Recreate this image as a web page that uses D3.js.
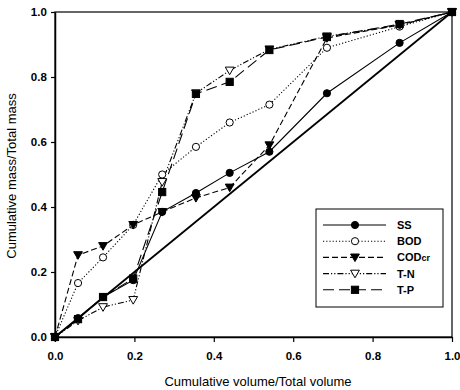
<!DOCTYPE html>
<html><head><meta charset="utf-8">
<script src="https://cdn.jsdelivr.net/npm/d3@7/dist/d3.min.js"></script>
<style>body{margin:0;background:#fff}</style></head>
<body><svg id="c" width="460" height="390"></svg>
<script>
const xVals = [0, 0.058, 0.121, 0.197, 0.27, 0.355, 0.44, 0.54, 0.685, 0.868, 1.0];
const ss    = [0, 0.058, 0.123, 0.175, 0.385, 0.443, 0.505, 0.57, 0.75, 0.905, 1.0];
const bod   = [0, 0.166, 0.245, 0.345, 0.50, 0.585, 0.66, 0.715, 0.89, 0.955, 1.0];
const codcr = [0, 0.252, 0.28, 0.345, 0.385, 0.428, 0.46, 0.59, 0.92, 0.96, 1.0];
const tn    = [0, 0.05, 0.092, 0.114, 0.477, 0.75, 0.82, 0.885, 0.925, 0.96, 1.0];
const tp    = [0, 0.055, 0.123, 0.18, 0.446, 0.748, 0.785, 0.883, 0.923, 0.963, 1.0];
const seriesNames = ["SS", "BOD", "CODcr", "T-N", "T-P"];
const tickVals = [0, 0.2, 0.4, 0.6, 0.8, 1.0];

const svg = d3.select("#c");
const x = d3.scaleLinear().domain([0,1]).range([55,452]);
const y = d3.scaleLinear().domain([0,1]).range([337,12]);

const styles = {
  "SS":   {dash:null, marker:"circle", fill:"#000"},
  "BOD":  {dash:"1.2,2", marker:"circle", fill:"#fff"},
  "CODcr":{dash:"6,3", marker:"tridown", fill:"#000"},
  "T-N":  {dash:"6,2,1.2,2,1.2,2", marker:"tridown", fill:"#fff"},
  "T-P":  {dash:"11,5", marker:"square", fill:"#000"}
};
const data = {"SS":ss,"BOD":bod,"CODcr":codcr,"T-N":tn,"T-P":tp};

svg.append("rect").attr("x",x(0)).attr("y",y(1)).attr("width",x(1)-x(0)).attr("height",y(0)-y(1))
  .attr("fill","none").attr("stroke","#000").attr("stroke-width",1.2);

const fmt = d3.format(".1f");
const xa = svg.append("g").attr("transform",`translate(0,${y(0)})`)
  .call(d3.axisBottom(x).tickValues(tickVals).tickFormat(fmt).tickSize(5).tickSizeOuter(0));
const ya = svg.append("g").attr("transform",`translate(${x(0)},0)`)
  .call(d3.axisLeft(y).tickValues(tickVals).tickFormat(fmt).tickSize(4).tickSizeOuter(0));
[xa,ya].forEach(a=>{
  a.select(".domain").attr("stroke-width",1.5);
  a.selectAll("line").attr("stroke-width",1.2);
  a.selectAll("text").attr("font-family","Liberation Sans, Arial, sans-serif")
    .attr("font-size",11.5).attr("font-weight","bold").attr("fill","#000");
});
xa.selectAll("text").attr("dy","1.3em");
ya.selectAll("text").attr("dx","-0.1em");

svg.append("line").attr("x1",x(0)).attr("y1",y(0)).attr("x2",x(1)).attr("y2",y(1))
  .attr("stroke","#000").attr("stroke-width",1.8);

function marker(g, m, fill, cx, cy, sc){
  sc = sc || 1;
  if(m==="circle") g.append("circle").attr("cx",cx).attr("cy",cy).attr("r",3.6)
    .attr("fill",fill).attr("stroke","#000").attr("stroke-width",1);
  else if(m==="square") g.append("rect").attr("x",cx-3.6).attr("y",cy-3.6).attr("width",7.2).attr("height",7.2)
    .attr("fill",fill).attr("stroke","#000").attr("stroke-width",1);
  else g.append("path").attr("d",`M${cx-4.4*sc},${cy-3.4*sc}L${cx+4.4*sc},${cy-3.4*sc}L${cx},${cy+4.2*sc}Z`)
    .attr("fill",fill).attr("stroke","#000").attr("stroke-width",1);
}

const line = d3.line().x(d=>x(d[0])).y(d=>y(d[1]));
seriesNames.forEach(n=>{
  const s = styles[n];
  const pts = xVals.map((v,i)=>[v,data[n][i]]);
  svg.append("path").attr("d",line(pts)).attr("fill","none").attr("stroke","#000")
    .attr("stroke-width",1.1).attr("stroke-dasharray",s.dash);
});
seriesNames.forEach(n=>{
  const s = styles[n]; const g = svg.append("g");
  xVals.forEach((v,i)=>marker(g,s.marker,s.fill,x(v),y(data[n][i])));
});

const lg = svg.append("g");
lg.append("rect").attr("x",316).attr("y",209).attr("width",127).attr("height",98)
  .attr("fill","#fff").attr("stroke","#000").attr("stroke-width",1);
seriesNames.forEach((n,i)=>{
  const ly = 225 + i*16.2; const s = styles[n];
  lg.append("line").attr("x1",323).attr("x2",386).attr("y1",ly).attr("y2",ly)
    .attr("stroke","#000").attr("stroke-width",1.1).attr("stroke-dasharray",s.dash);
  marker(lg,s.marker,s.fill,355,ly);
  const t = lg.append("text").attr("x",397).attr("y",ly+4).attr("font-family","Liberation Sans, Arial, sans-serif")
    .attr("font-size",11).attr("font-weight","bold");
  if(n==="CODcr"){ t.text("COD"); t.append("tspan").attr("font-size",9).text("cr"); }
  else t.text(n);
});

svg.append("text").attr("x",258).attr("y",386).attr("text-anchor","middle")
  .attr("font-family","Liberation Sans, Arial, sans-serif").attr("font-size",13).text("Cumulative volume/Total volume");
svg.append("text").attr("transform","translate(16,176) rotate(-90)").attr("text-anchor","middle")
  .attr("font-family","Liberation Sans, Arial, sans-serif").attr("font-size",13).text("Cumulative mass/Total mass");
</script></body></html>
